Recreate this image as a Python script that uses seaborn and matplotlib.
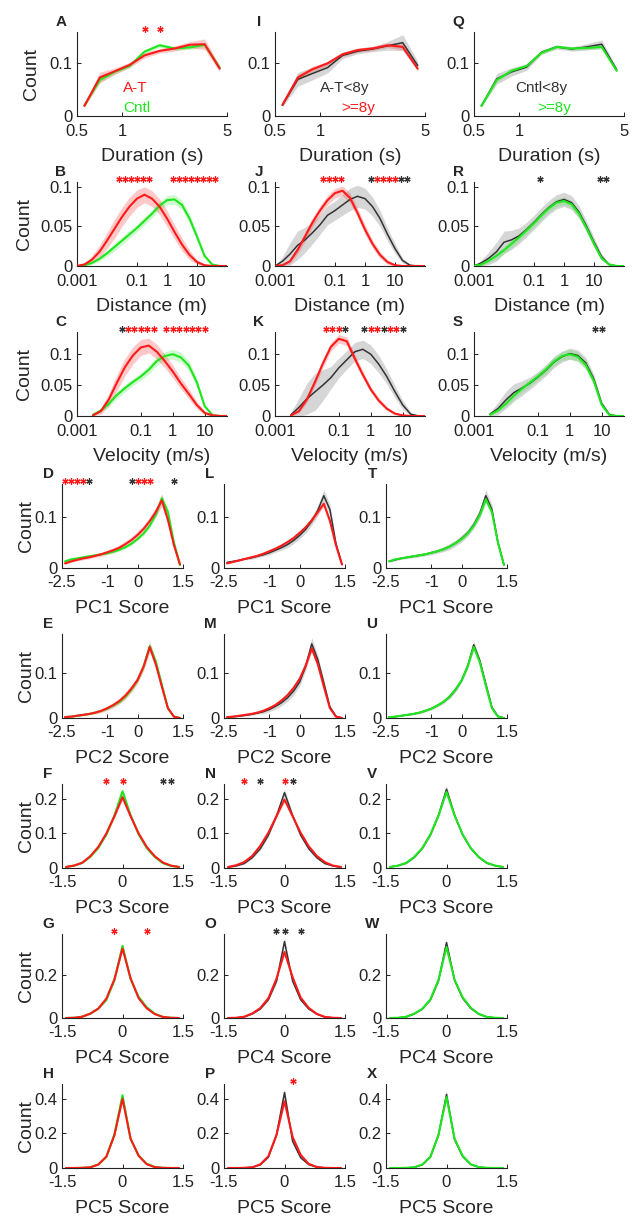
import numpy as np
import matplotlib
matplotlib.use("Agg")
import matplotlib.pyplot as plt
import seaborn as sns
from matplotlib.ticker import FixedLocator, FixedFormatter, NullLocator

sns.set_theme(style="ticks")
plt.rcParams['font.family'] = ['Liberation Sans', 'DejaVu Sans']

RED = '#ff1a1a'
GREEN = '#1ee61e'
BLACK = '#333333'
BAND_ALPHA = {RED: 0.24, GREEN: 0.22, BLACK: 0.2}

# ---------------- x grids ----------------
dur_x = [0.56, 0.71, 0.89, 1.12, 1.41, 1.78, 2.24, 2.82, 3.55, 4.47]
dist_lx = [-3.0, -2.75, -2.5, -2.25, -2.0, -1.75, -1.5, -1.25, -1.0, -0.75, -0.5,
           -0.25, 0.0, 0.25, 0.5, 0.75, 1.0, 1.25, 1.5, 1.75, 2.0]
vel_lx = [-2.5, -2.25, -2.0, -1.75, -1.5, -1.25, -1.0, -0.75, -0.5,
          -0.25, 0.0, 0.25, 0.5, 0.75, 1.0, 1.25, 1.5, 1.75]
pc12_x = [-2.4, -2.2, -2.0, -1.8, -1.6, -1.4, -1.2, -1.0, -0.8, -0.6, -0.4, -0.2,
          0.0, 0.2, 0.4, 0.6, 0.8, 1.0, 1.2, 1.4]
pc345_x = [-1.4, -1.2, -1.0, -0.8, -0.6, -0.4, -0.2, 0.0, 0.2, 0.4, 0.6, 0.8, 1.0, 1.2, 1.4]

# ---------------- Duration (A, I, Q) ----------------
a_red = [0.019, 0.0725, 0.084, 0.096, 0.114, 0.1225, 0.127, 0.134, 0.135, 0.089]
a_red_sd = [0.003, 0.01, 0.006, 0.005, 0.005, 0.004, 0.005, 0.006, 0.01, 0.006]
a_green = [0.02, 0.068, 0.083, 0.094, 0.121, 0.133, 0.127, 0.129, 0.134, 0.091]
a_green_sd = [0.002, 0.005, 0.004, 0.003, 0.004, 0.004, 0.003, 0.004, 0.004, 0.004]
i_red = [0.021, 0.0725, 0.088, 0.099, 0.116, 0.124, 0.127, 0.133, 0.13, 0.089]
i_red_sd = [0.002, 0.006, 0.005, 0.004, 0.004, 0.004, 0.004, 0.004, 0.006, 0.004]
i_black = [0.02, 0.069, 0.08, 0.091, 0.114, 0.122, 0.126, 0.132, 0.138, 0.095]
i_black_sd = [0.003, 0.013, 0.012, 0.01, 0.006, 0.005, 0.005, 0.008, 0.015, 0.008]
q_green = [0.019, 0.068, 0.085, 0.094, 0.119, 0.13, 0.127, 0.128, 0.13, 0.085]
q_green_sd = [0.002, 0.004, 0.003, 0.003, 0.003, 0.003, 0.003, 0.003, 0.004, 0.003]
q_black = [0.019, 0.07, 0.083, 0.092, 0.12, 0.13, 0.126, 0.13, 0.135, 0.087]
q_black_sd = [0.002, 0.01, 0.008, 0.006, 0.004, 0.004, 0.004, 0.006, 0.008, 0.004]

# ---------------- Distance (B, J, R) ----------------
b_red = [0, 0.002, 0.008, 0.018, 0.032, 0.047, 0.062, 0.075, 0.085, 0.09, 0.085,
         0.075, 0.06, 0.043, 0.027, 0.014, 0.005, 0.001, 0, 0, 0]
b_red_sd = [0, 0.002, 0.005, 0.008, 0.01, 0.012, 0.012, 0.012, 0.011, 0.01, 0.01,
            0.01, 0.01, 0.009, 0.008, 0.006, 0.003, 0.001, 0, 0, 0]
b_green = [0, 0.001, 0.004, 0.009, 0.016, 0.024, 0.032, 0.04, 0.048, 0.057, 0.066,
           0.076, 0.083, 0.084, 0.077, 0.06, 0.037, 0.013, 0.002, 0, 0]
b_green_sd = [0, 0.001, 0.002, 0.003, 0.004, 0.005, 0.005, 0.005, 0.005, 0.005, 0.005,
              0.005, 0.006, 0.006, 0.006, 0.006, 0.005, 0.003, 0.001, 0, 0]
j_red = [0, 0.001, 0.006, 0.02, 0.037, 0.055, 0.07, 0.083, 0.092, 0.095, 0.086,
         0.067, 0.046, 0.028, 0.014, 0.005, 0.001, 0, 0, 0, 0]
j_red_sd = [0, 0.001, 0.003, 0.005, 0.006, 0.006, 0.006, 0.006, 0.006, 0.006, 0.006,
            0.006, 0.006, 0.005, 0.004, 0.003, 0.001, 0, 0, 0, 0]
j_black = [0, 0.006, 0.015, 0.026, 0.033, 0.042, 0.052, 0.064, 0.07, 0.077, 0.084,
           0.088, 0.085, 0.075, 0.06, 0.04, 0.022, 0.007, 0.001, 0, 0]
j_black_sd = [0, 0.006, 0.014, 0.018, 0.016, 0.014, 0.012, 0.012, 0.012, 0.013, 0.014,
              0.014, 0.013, 0.012, 0.01, 0.008, 0.006, 0.003, 0.001, 0, 0]
r_green = [0, 0.002, 0.007, 0.013, 0.02, 0.028, 0.036, 0.045, 0.054, 0.064, 0.073,
           0.08, 0.082, 0.078, 0.066, 0.048, 0.028, 0.01, 0.002, 0, 0]
r_green_sd = [0, 0.001, 0.003, 0.004, 0.005, 0.005, 0.005, 0.005, 0.005, 0.005, 0.005,
              0.005, 0.005, 0.005, 0.005, 0.005, 0.004, 0.003, 0.001, 0, 0]
r_black = [0, 0.004, 0.01, 0.018, 0.03, 0.033, 0.038, 0.046, 0.055, 0.065, 0.074,
           0.081, 0.084, 0.08, 0.068, 0.05, 0.03, 0.012, 0.002, 0, 0]
r_black_sd = [0, 0.004, 0.008, 0.012, 0.014, 0.012, 0.01, 0.009, 0.009, 0.009, 0.009,
              0.009, 0.009, 0.009, 0.008, 0.007, 0.006, 0.004, 0.001, 0, 0]

# ---------------- Velocity (C, K, S) ----------------
c_red = [0.001, 0.008, 0.027, 0.054, 0.079, 0.098, 0.111, 0.114, 0.104, 0.089, 0.072,
         0.053, 0.036, 0.018, 0.005, 0.001, 0, 0]
c_red_sd = [0.001, 0.005, 0.01, 0.013, 0.014, 0.014, 0.013, 0.012, 0.012, 0.011, 0.01,
            0.009, 0.008, 0.006, 0.003, 0.001, 0, 0]
c_green = [0.002, 0.009, 0.02, 0.034, 0.045, 0.055, 0.064, 0.075, 0.089, 0.097, 0.1,
           0.095, 0.082, 0.055, 0.016, 0.001, 0, 0]
c_green_sd = [0.001, 0.003, 0.005, 0.006, 0.006, 0.006, 0.006, 0.007, 0.007, 0.007, 0.008,
              0.008, 0.008, 0.007, 0.004, 0.001, 0, 0]
k_red = [0.001, 0.008, 0.027, 0.055, 0.085, 0.112, 0.125, 0.121, 0.093, 0.067, 0.043,
         0.025, 0.012, 0.004, 0.001, 0, 0, 0]
k_red_sd = [0.001, 0.003, 0.005, 0.006, 0.007, 0.007, 0.007, 0.007, 0.007, 0.006, 0.005,
            0.004, 0.003, 0.002, 0.001, 0, 0, 0]
k_black = [0.002, 0.014, 0.028, 0.039, 0.05, 0.062, 0.078, 0.091, 0.104, 0.108, 0.1,
           0.084, 0.064, 0.04, 0.018, 0.003, 0, 0]
k_black_sd = [0.004, 0.015, 0.025, 0.03, 0.025, 0.018, 0.016, 0.015, 0.015, 0.015, 0.015,
              0.014, 0.012, 0.01, 0.007, 0.003, 0, 0]
s_green = [0.002, 0.009, 0.02, 0.033, 0.044, 0.054, 0.064, 0.075, 0.088, 0.097, 0.1,
           0.096, 0.083, 0.057, 0.018, 0.001, 0, 0]
s_green_sd = [0.001, 0.003, 0.005, 0.006, 0.006, 0.006, 0.006, 0.007, 0.007, 0.007, 0.008,
              0.008, 0.008, 0.007, 0.004, 0.001, 0, 0]
s_black = [0.003, 0.012, 0.026, 0.038, 0.045, 0.053, 0.063, 0.074, 0.087, 0.096, 0.101,
           0.098, 0.086, 0.06, 0.02, 0.002, 0, 0]
s_black_sd = [0.003, 0.01, 0.014, 0.014, 0.012, 0.01, 0.009, 0.009, 0.009, 0.009, 0.009,
              0.009, 0.009, 0.008, 0.005, 0.002, 0, 0]

# ---------------- PC1 (D, L, T) ----------------
d_red = [0.009, 0.013, 0.016, 0.019, 0.021, 0.024, 0.027, 0.031, 0.035, 0.04, 0.047,
         0.055, 0.065, 0.077, 0.092, 0.11, 0.133, 0.095, 0.045, 0.007]
d_red_sd = [0.002, 0.002, 0.002, 0.003, 0.003, 0.003, 0.004, 0.004, 0.005, 0.005, 0.006,
            0.006, 0.007, 0.007, 0.008, 0.009, 0.012, 0.01, 0.005, 0.002]
d_green = [0.013, 0.017, 0.019, 0.021, 0.023, 0.025, 0.027, 0.029, 0.032, 0.036, 0.041,
           0.048, 0.057, 0.068, 0.083, 0.105, 0.137, 0.11, 0.05, 0.006]
d_green_sd = [0.001, 0.001, 0.001, 0.002, 0.002, 0.002, 0.002, 0.002, 0.002, 0.003, 0.003,
              0.003, 0.003, 0.004, 0.004, 0.005, 0.008, 0.006, 0.003, 0.001]
l_red = [0.009, 0.012, 0.015, 0.018, 0.021, 0.024, 0.028, 0.033, 0.038, 0.044, 0.051,
         0.059, 0.069, 0.08, 0.094, 0.11, 0.126, 0.093, 0.045, 0.007]
l_red_sd = [0.001, 0.001, 0.001, 0.001, 0.002, 0.002, 0.002, 0.002, 0.003, 0.003, 0.003,
            0.003, 0.004, 0.004, 0.004, 0.005, 0.006, 0.005, 0.003, 0.001]
l_black = [0.011, 0.013, 0.015, 0.018, 0.02, 0.023, 0.026, 0.03, 0.035, 0.04, 0.046,
           0.054, 0.064, 0.076, 0.092, 0.113, 0.142, 0.115, 0.048, 0.007]
l_black_sd = [0.002, 0.002, 0.002, 0.002, 0.003, 0.003, 0.003, 0.004, 0.004, 0.005, 0.006,
              0.006, 0.007, 0.007, 0.008, 0.01, 0.012, 0.01, 0.005, 0.002]
t_green = [0.013, 0.017, 0.019, 0.021, 0.023, 0.025, 0.027, 0.03, 0.033, 0.037, 0.042,
           0.049, 0.057, 0.068, 0.083, 0.104, 0.135, 0.11, 0.05, 0.006]
t_black = [0.013, 0.016, 0.019, 0.021, 0.023, 0.025, 0.027, 0.03, 0.033, 0.037, 0.042,
           0.049, 0.058, 0.069, 0.085, 0.107, 0.142, 0.115, 0.05, 0.006]

# ---------------- PC2 (E, M, U) ----------------
e_red = [0.002, 0.003, 0.005, 0.007, 0.009, 0.012, 0.016, 0.022, 0.029, 0.038, 0.05,
         0.066, 0.085, 0.115, 0.158, 0.12, 0.07, 0.022, 0.003, 0.0]
e_red_sd = [0.001, 0.001, 0.001, 0.002, 0.002, 0.003, 0.004, 0.005, 0.006, 0.007, 0.008,
            0.008, 0.008, 0.009, 0.012, 0.009, 0.006, 0.003, 0.001, 0.0]
e_green = [0.002, 0.003, 0.005, 0.007, 0.009, 0.012, 0.016, 0.021, 0.028, 0.036, 0.048,
           0.064, 0.084, 0.115, 0.16, 0.126, 0.074, 0.022, 0.003, 0.0]
e_green_sd = [0.001, 0.001, 0.001, 0.001, 0.001, 0.002, 0.002, 0.002, 0.003, 0.003, 0.004,
              0.004, 0.004, 0.005, 0.007, 0.005, 0.004, 0.002, 0.001, 0.0]
m_red = [0.002, 0.003, 0.005, 0.007, 0.009, 0.012, 0.016, 0.022, 0.029, 0.039, 0.051,
         0.067, 0.087, 0.117, 0.155, 0.12, 0.07, 0.022, 0.003, 0.0]
m_black = [0.002, 0.003, 0.004, 0.006, 0.008, 0.011, 0.014, 0.019, 0.026, 0.034, 0.045,
           0.06, 0.08, 0.115, 0.165, 0.13, 0.078, 0.025, 0.004, 0.0]
m_black_sd = [0.001, 0.001, 0.001, 0.002, 0.002, 0.003, 0.004, 0.005, 0.006, 0.007, 0.008,
              0.009, 0.009, 0.01, 0.014, 0.01, 0.007, 0.003, 0.001, 0.0]
u_green = [0.002, 0.003, 0.005, 0.007, 0.009, 0.012, 0.016, 0.021, 0.028, 0.036, 0.048,
           0.064, 0.084, 0.115, 0.158, 0.124, 0.072, 0.022, 0.003, 0.0]
u_black = [0.002, 0.003, 0.005, 0.007, 0.009, 0.012, 0.016, 0.021, 0.028, 0.036, 0.047,
           0.063, 0.084, 0.116, 0.163, 0.128, 0.076, 0.024, 0.004, 0.0]
u_black_sd = [0.001, 0.001, 0.001, 0.001, 0.002, 0.002, 0.002, 0.003, 0.003, 0.004, 0.004,
              0.005, 0.005, 0.006, 0.008, 0.006, 0.004, 0.002, 0.001, 0.0]

# ---------------- PC3 (F, N, V) ----------------
f_red = [0.003, 0.007, 0.015, 0.034, 0.061, 0.1, 0.15, 0.205, 0.15, 0.1, 0.061, 0.034, 0.016, 0.007, 0.003]
f_red_sd = [0.001, 0.001, 0.002, 0.002, 0.003, 0.004, 0.005, 0.008, 0.005, 0.004, 0.003, 0.002, 0.002, 0.001, 0.001]
f_green = [0.003, 0.007, 0.015, 0.032, 0.058, 0.097, 0.152, 0.222, 0.153, 0.097, 0.058, 0.032, 0.014, 0.006, 0.003]
f_green_sd = [0.001, 0.001, 0.001, 0.002, 0.002, 0.003, 0.004, 0.006, 0.004, 0.003, 0.002, 0.002, 0.001, 0.001, 0.001]
n_red = [0.003, 0.008, 0.017, 0.035, 0.064, 0.102, 0.15, 0.198, 0.15, 0.102, 0.063, 0.035, 0.017, 0.007, 0.003]
n_black = [0.002, 0.006, 0.013, 0.03, 0.056, 0.095, 0.15, 0.218, 0.152, 0.095, 0.056, 0.03, 0.013, 0.006, 0.002]
n_black_sd = [0.001, 0.001, 0.002, 0.003, 0.004, 0.005, 0.006, 0.01, 0.006, 0.005, 0.004, 0.003, 0.002, 0.001, 0.001]
v_green = [0.003, 0.007, 0.015, 0.032, 0.058, 0.097, 0.152, 0.22, 0.152, 0.097, 0.058, 0.032, 0.015, 0.007, 0.003]
v_black = [0.003, 0.007, 0.014, 0.031, 0.057, 0.096, 0.152, 0.228, 0.153, 0.096, 0.057, 0.031, 0.014, 0.007, 0.003]

# ---------------- PC4 (G, O, W) ----------------
g_red = [0.0, 0.001, 0.006, 0.02, 0.044, 0.09, 0.18, 0.323, 0.185, 0.092, 0.045, 0.018, 0.005, 0.001, 0.0]
g_green = [0.0, 0.001, 0.006, 0.02, 0.043, 0.084, 0.175, 0.335, 0.18, 0.098, 0.05, 0.02, 0.005, 0.001, 0.0]
o_red = [0.0, 0.001, 0.006, 0.021, 0.046, 0.092, 0.182, 0.307, 0.19, 0.095, 0.047, 0.019, 0.005, 0.001, 0.0]
o_black = [0.0, 0.001, 0.005, 0.019, 0.042, 0.085, 0.17, 0.355, 0.172, 0.085, 0.042, 0.018, 0.005, 0.001, 0.0]
w_green = [0.0, 0.001, 0.006, 0.02, 0.043, 0.086, 0.176, 0.33, 0.178, 0.096, 0.048, 0.019, 0.005, 0.001, 0.0]
w_black = [0.0, 0.001, 0.005, 0.019, 0.042, 0.084, 0.172, 0.35, 0.175, 0.092, 0.045, 0.018, 0.005, 0.001, 0.0]
pc4_red_sd = [0, 0.001, 0.001, 0.002, 0.003, 0.004, 0.006, 0.012, 0.006, 0.004, 0.003, 0.002, 0.001, 0.001, 0]
pc4_green_sd = [0, 0.001, 0.001, 0.001, 0.002, 0.003, 0.004, 0.008, 0.004, 0.003, 0.002, 0.001, 0.001, 0.001, 0]
pc4_black_sd = [0, 0.001, 0.001, 0.002, 0.003, 0.005, 0.008, 0.015, 0.008, 0.005, 0.003, 0.002, 0.001, 0.001, 0]

# ---------------- PC5 (H, P, X) ----------------
h_red = [0.0, 0.0, 0.001, 0.004, 0.02, 0.066, 0.19, 0.40, 0.17, 0.07, 0.022, 0.005, 0.001, 0.0, 0.0]
h_green = [0.0, 0.0, 0.001, 0.004, 0.02, 0.064, 0.195, 0.42, 0.168, 0.072, 0.024, 0.006, 0.001, 0.0, 0.0]
p_red = [0.0, 0.0, 0.001, 0.004, 0.021, 0.068, 0.19, 0.386, 0.18, 0.076, 0.024, 0.006, 0.001, 0.0, 0.0]
p_black = [0.0, 0.0, 0.001, 0.004, 0.019, 0.063, 0.19, 0.436, 0.155, 0.06, 0.02, 0.005, 0.001, 0.0, 0.0]
x_green = [0.0, 0.0, 0.001, 0.004, 0.02, 0.065, 0.19, 0.41, 0.17, 0.07, 0.022, 0.005, 0.001, 0.0, 0.0]
x_black = [0.0, 0.0, 0.001, 0.004, 0.019, 0.064, 0.19, 0.425, 0.165, 0.067, 0.021, 0.005, 0.001, 0.0, 0.0]
pc5_red_sd = [0, 0, 0, 0.001, 0.002, 0.004, 0.008, 0.018, 0.008, 0.004, 0.002, 0.001, 0, 0, 0]
pc5_green_sd = [0, 0, 0, 0.001, 0.001, 0.003, 0.005, 0.012, 0.005, 0.003, 0.001, 0.001, 0, 0, 0]
pc5_black_sd = [0, 0, 0, 0.001, 0.003, 0.006, 0.01, 0.022, 0.012, 0.008, 0.003, 0.001, 0, 0, 0]

# ---------------- significance stars (x position, colour code) ----------------
a_star_x = [1.41, 1.78]
a_star_c = 'rr'
b_star_lx = [-1.6, -1.4, -1.2, -1.0, -0.8, -0.6, 0.2, 0.4, 0.6, 0.8, 1.0, 1.2, 1.4, 1.6]
b_star_c = 'rrrrrrrrrrrrrr'
c_star_lx = [-1.6, -1.4, -1.2, -1.0, -0.8, -0.6, -0.2, 0.0, 0.2, 0.4, 0.6, 0.8, 1.0]
c_star_c = 'krrrrrrrrrrrr'
d_star_x = [-2.4, -2.2, -2.0, -1.8, -1.6, -0.2, 0.0, 0.2, 0.4, 1.2]
d_star_c = 'rrrrkkrrrk'
f_star_x = [-0.4, 0.0, 1.0, 1.2]
f_star_c = 'rrkk'
g_star_x = [-0.2, 0.6]
g_star_c = 'rr'
j_star_lx = [-1.4, -1.2, -1.0, -0.8, 0.2, 0.4, 0.6, 0.8, 1.0, 1.2, 1.4]
j_star_c = 'rrrrkrrrrkk'
k_star_lx = [-1.4, -1.2, -1.0, -0.8, -0.2, 0.0, 0.2, 0.4, 0.6, 0.8, 1.0]
k_star_c = 'rrrkkrrkrrk'
n_star_x = [-1.0, -0.6, 0.0, 0.2]
n_star_c = 'rkrk'
o_star_x = [-0.2, 0.0, 0.4]
o_star_c = 'kkk'
p_star_x = [0.2]
p_star_c = 'r'
r_star_lx = [-0.8, 1.2, 1.4]
r_star_c = 'kkk'
s_star_lx = [0.8, 1.0]
s_star_c = 'kk'

STAR_COLORS = {'r': RED, 'k': BLACK}

# ---------------- layout (pixels of the 644 x 1218 canvas) ----------------
row_bottom_px = [116, 266, 416, 568, 718, 868, 1018, 1168]
top_left_px = [77, 275, 474]
pc_left_px = [62, 224, 386]
AX_H = 84
ylabel_off_px = [45, 52, 52, 35, 35, 35, 35, 35]

log_rows = {
    0: dict(label='Duration (s)', xlim=(0.5, 5), ticks=[0.5, 1, 5], tl=['0.5', '1', '5'],
            ylim=0.158, yt=[0, 0.1], ytl=['0', '0.1']),
    1: dict(label='Distance (m)', xlim=(0.001, 100), ticks=[0.001, 0.1, 1, 10],
            tl=['0.001', '0.1', '1', '10'], ylim=0.106, yt=[0, 0.05, 0.1], ytl=['0', '0.05', '0.1']),
    2: dict(label='Velocity (m/s)', xlim=(0.001, 50), ticks=[0.001, 0.1, 1, 10],
            tl=['0.001', '0.1', '1', '10'], ylim=0.136, yt=[0, 0.05, 0.1], ytl=['0', '0.05', '0.1']),
}
pc_rows = {
    3: dict(label='PC1 Score', xlim=(-2.5, 1.5), ticks=[-2.5, -1, 0, 1.5], tl=['-2.5', '-1', '0', '1.5'],
            ylim=0.165, yt=[0, 0.1], ytl=['0', '0.1']),
    4: dict(label='PC2 Score', xlim=(-2.5, 1.5), ticks=[-2.5, -1, 0, 1.5], tl=['-2.5', '-1', '0', '1.5'],
            ylim=0.187, yt=[0, 0.1], ytl=['0', '0.1']),
    5: dict(label='PC3 Score', xlim=(-1.5, 1.5), ticks=[-1.5, 0, 1.5], tl=['-1.5', '0', '1.5'],
            ylim=0.243, yt=[0, 0.1, 0.2], ytl=['0', '0.1', '0.2']),
    6: dict(label='PC4 Score', xlim=(-1.5, 1.5), ticks=[-1.5, 0, 1.5], tl=['-1.5', '0', '1.5'],
            ylim=0.39, yt=[0, 0.2], ytl=['0', '0.2']),
    7: dict(label='PC5 Score', xlim=(-1.5, 1.5), ticks=[-1.5, 0, 1.5], tl=['-1.5', '0', '1.5'],
            ylim=0.485, yt=[0, 0.2, 0.4], ytl=['0', '0.2', '0.4']),
}
row_specs = {**log_rows, **pc_rows}

dur = np.array(dur_x)
dist = 10 ** np.array(dist_lx)
vel = 10 ** np.array(vel_lx)

# (letter, row, col, x, [(y, sd, colour)...], stars_x, stars_c, notes)
panels = [
    ('A', 0, 0, dur, [(a_green, a_green_sd, GREEN), (a_red, a_red_sd, RED)], a_star_x, a_star_c,
     [(1.22, 0.053, 'A-T', RED), (1.25, 0.015, 'Cntl', GREEN)]),
    ('I', 0, 1, dur, [(i_black, i_black_sd, BLACK), (i_red, i_red_sd, RED)], [], '',
     [(1.45, 0.053, 'A-T<8y', BLACK), (1.8, 0.015, '>=8y', RED)]),
    ('Q', 0, 2, dur, [(q_black, q_black_sd, BLACK), (q_green, q_green_sd, GREEN)], [], '',
     [(1.4, 0.053, 'Cntl<8y', BLACK), (1.7, 0.015, '>=8y', GREEN)]),
    ('B', 1, 0, dist, [(b_green, b_green_sd, GREEN), (b_red, b_red_sd, RED)],
     10 ** np.array(b_star_lx), b_star_c, []),
    ('J', 1, 1, dist, [(j_black, j_black_sd, BLACK), (j_red, j_red_sd, RED)],
     10 ** np.array(j_star_lx), j_star_c, []),
    ('R', 1, 2, dist, [(r_black, r_black_sd, BLACK), (r_green, r_green_sd, GREEN)],
     10 ** np.array(r_star_lx), r_star_c, []),
    ('C', 2, 0, vel, [(c_green, c_green_sd, GREEN), (c_red, c_red_sd, RED)],
     10 ** np.array(c_star_lx), c_star_c, []),
    ('K', 2, 1, vel, [(k_black, k_black_sd, BLACK), (k_red, k_red_sd, RED)],
     10 ** np.array(k_star_lx), k_star_c, []),
    ('S', 2, 2, vel, [(s_black, s_black_sd, BLACK), (s_green, s_green_sd, GREEN)],
     10 ** np.array(s_star_lx), s_star_c, []),
    ('D', 3, 0, pc12_x, [(d_green, d_green_sd, GREEN), (d_red, d_red_sd, RED)], d_star_x, d_star_c, []),
    ('L', 3, 1, pc12_x, [(l_black, l_black_sd, BLACK), (l_red, l_red_sd, RED)], [], '', []),
    ('T', 3, 2, pc12_x, [(t_black, l_black_sd, BLACK), (t_green, d_green_sd, GREEN)], [], '', []),
    ('E', 4, 0, pc12_x, [(e_green, e_green_sd, GREEN), (e_red, e_red_sd, RED)], [], '', []),
    ('M', 4, 1, pc12_x, [(m_black, m_black_sd, BLACK), (m_red, e_green_sd, RED)], [], '', []),
    ('U', 4, 2, pc12_x, [(u_black, u_black_sd, BLACK), (u_green, e_green_sd, GREEN)], [], '', []),
    ('F', 5, 0, pc345_x, [(f_green, f_green_sd, GREEN), (f_red, f_red_sd, RED)], f_star_x, f_star_c, []),
    ('N', 5, 1, pc345_x, [(n_black, n_black_sd, BLACK), (n_red, f_green_sd, RED)], n_star_x, n_star_c, []),
    ('V', 5, 2, pc345_x, [(v_black, n_black_sd, BLACK), (v_green, f_green_sd, GREEN)], [], '', []),
    ('G', 6, 0, pc345_x, [(g_green, pc4_green_sd, GREEN), (g_red, pc4_red_sd, RED)], g_star_x, g_star_c, []),
    ('O', 6, 1, pc345_x, [(o_black, pc4_black_sd, BLACK), (o_red, pc4_red_sd, RED)], o_star_x, o_star_c, []),
    ('W', 6, 2, pc345_x, [(w_black, pc4_black_sd, BLACK), (w_green, pc4_green_sd, GREEN)], [], '', []),
    ('H', 7, 0, pc345_x, [(h_green, pc5_green_sd, GREEN), (h_red, pc5_red_sd, RED)], [], '', []),
    ('P', 7, 1, pc345_x, [(p_black, pc5_black_sd, BLACK), (p_red, pc5_red_sd, RED)], p_star_x, p_star_c, []),
    ('X', 7, 2, pc345_x, [(x_black, pc5_black_sd, BLACK), (x_green, pc5_green_sd, GREEN)], [], '', []),
]

W, H = 644, 1218
fig = plt.figure(figsize=(W / 100, H / 100), dpi=100)

for letter, row, col, x, series, sx, sc, notes in panels:
    spec = row_specs[row]
    if row < 3:
        left, width = top_left_px[col], 150
        xpad, lpad, letter_dx = 6, 6.5, -16
    else:
        left, width = pc_left_px[col], 121
        xpad, lpad, letter_dx = 5, 7.5, -14
    bottom = row_bottom_px[row]
    ax = fig.add_axes([left / W, 1 - bottom / H, width / W, AX_H / H])

    xs = np.asarray(x, dtype=float)
    for y, sd, c in series:
        y, sd = np.asarray(y), np.asarray(sd)
        ax.fill_between(xs, y - sd, y + sd, color=c, alpha=BAND_ALPHA[c], lw=0, zorder=1)
    for y, sd, c in series:
        sns.lineplot(x=xs, y=np.asarray(y), color=c, lw=1.1 if c == BLACK else 1.5,
                     estimator=None, ax=ax, zorder=3)

    if row < 3:
        ax.set_xscale('log')
    ax.set_xlim(*spec['xlim'])
    ax.set_ylim(0, spec['ylim'])
    ax.xaxis.set_major_locator(FixedLocator(spec['ticks']))
    ax.xaxis.set_major_formatter(FixedFormatter(spec['tl']))
    ax.xaxis.set_minor_locator(NullLocator())
    ax.yaxis.set_major_locator(FixedLocator(spec['yt']))
    ax.yaxis.set_major_formatter(FixedFormatter(spec['ytl']))
    ax.tick_params(direction='in', length=3, width=0.7, labelsize=12, colors='#222222')
    ax.tick_params(axis='x', pad=xpad)
    ax.tick_params(axis='y', pad=3)
    for s in ('top', 'right'):
        ax.spines[s].set_visible(False)
    for s in ('left', 'bottom'):
        ax.spines[s].set_linewidth(0.8)
        ax.spines[s].set_color('#222222')

    ax.set_xlabel(spec['label'], fontsize=14, labelpad=lpad)
    if col == 0:
        ax.set_ylabel('Count', fontsize=14, va='center')
        ax.yaxis.set_label_coords(-ylabel_off_px[row] / width, 0.5)
    else:
        ax.set_ylabel('')

    ax.annotate(letter, xy=(0, 1), xycoords='axes fraction', xytext=(letter_dx * 0.72, 7.5),
                textcoords='offset points', ha='center', va='center',
                fontsize=11, fontweight='bold')

    for xv, cc in zip(sx, sc):
        ax.plot([xv], [1.03], ls='none', marker=(6, 2, 0), ms=4.5, mew=0.9,
                color=STAR_COLORS[cc], transform=ax.get_xaxis_transform(), clip_on=False)

    for nx, ny, txt, c in notes:
        ax.text(nx, ny, txt, color=c, fontsize=11, ha='center', va='center')

fig.savefig('out.png', dpi=100)
